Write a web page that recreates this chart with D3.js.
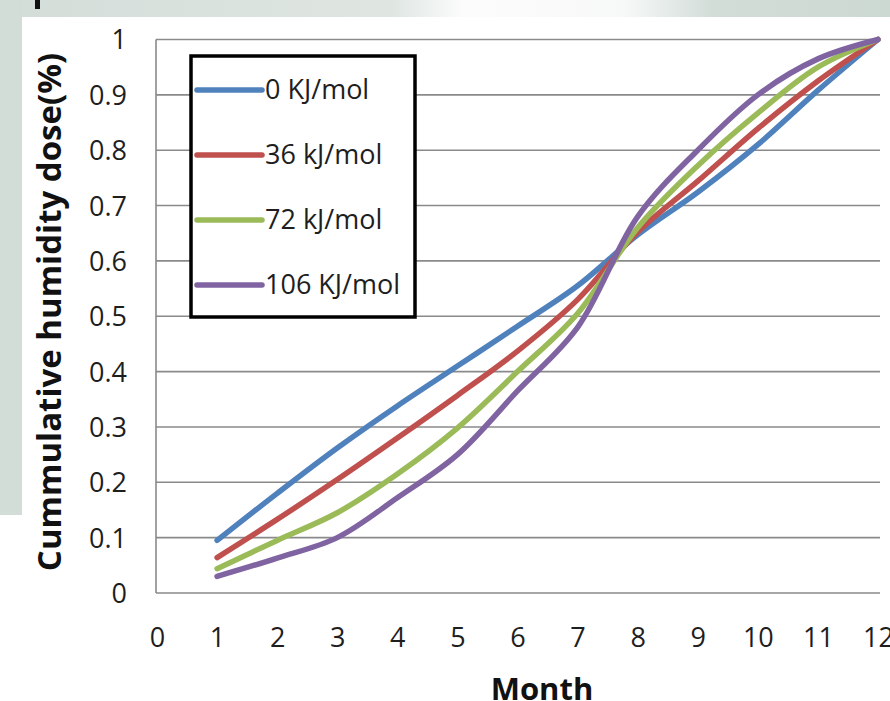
<!DOCTYPE html>
<html lang="en">
  <head>
    <meta charset="utf-8">
    <title>Cumulative humidity dose</title>
    <script src="https://d3js.org/d3.v7.min.js"></script>
    <style>
      body { margin: 0; background: #ffffff; }
      text { font-family: "Open Sans", sans-serif; }
    </style>
  </head>
  <body>
    <div id="chart"></div>
    <script>

    // data
    var months = [1, 2, 3, 4, 5, 6, 7, 8, 9, 10, 11, 12];
    var seriesNames = ["0 KJ/mol", "36 kJ/mol", "72 kJ/mol", "106 KJ/mol"];
    var dose0   = [0.095, 0.180, 0.262, 0.338, 0.410, 0.482, 0.555, 0.647, 0.724, 0.810, 0.908, 1.0];
    var dose36  = [0.064, 0.133, 0.205, 0.280, 0.357, 0.437, 0.530, 0.652, 0.744, 0.839, 0.925, 1.0];
    var dose72  = [0.044, 0.095, 0.145, 0.215, 0.298, 0.400, 0.505, 0.660, 0.772, 0.867, 0.950, 1.0];
    var dose106 = [0.030, 0.063, 0.100, 0.172, 0.250, 0.365, 0.480, 0.680, 0.800, 0.900, 0.965, 1.0];
    var xTicks = [0, 1, 2, 3, 4, 5, 6, 7, 8, 9, 10, 11, 12];
    var yTicks = [0, 0.1, 0.2, 0.3, 0.4, 0.5, 0.6, 0.7, 0.8, 0.9, 1];

    var allSeries = [dose0, dose36, dose72, dose106];
    var colours = ["#4f81bd", "#c0504d", "#9bbb59", "#8064a2"];

    var width = 890, height = 701;

    var svg = d3.select("#chart")
      .append("svg")
        .attr("width", width)
        .attr("height", height);

    // page background left over from the scan
    var grad = svg.append("defs").append("linearGradient")
      .attr("id", "topfade")
      .attr("x1", "0").attr("x2", "1")
      .attr("y1", "0").attr("y2", "0");
    grad.append("stop").attr("offset", "0").attr("stop-color", "#d3ddd8");
    grad.append("stop").attr("offset", "0.44").attr("stop-color", "#dfe6e2");
    grad.append("stop").attr("offset", "0.52").attr("stop-color", "#fbfcfb");
    grad.append("stop").attr("offset", "0.70").attr("stop-color", "#f7f9f8");
    grad.append("stop").attr("offset", "0.80").attr("stop-color", "#d3ddd8");
    grad.append("stop").attr("offset", "1").attr("stop-color", "#ccd8d2");

    svg.append("rect")
      .attr("x", 0).attr("y", 0)
      .attr("width", width).attr("height", 17)
      .attr("fill", "url(#topfade)");
    svg.append("rect")
      .attr("x", 0).attr("y", 0)
      .attr("width", 22).attr("height", 515)
      .attr("fill", "#d3ddd8");
    svg.append("rect")
      .attr("x", 35).attr("y", 0)
      .attr("width", 5).attr("height", 9)
      .attr("fill", "#111");

    var x = d3.scaleLinear()
      .domain([0, 12])
      .range([157, 878]);

    var y = d3.scaleLinear()
      .domain([0, 1])
      .range([593, 39.5]);

    // horizontal gridlines
    svg.append("g")
      .selectAll("line")
      .data(yTicks)
      .enter()
      .append("line")
        .attr("x1", 156)
        .attr("x2", 880)
        .attr("y1", function(d) { return y(d); })
        .attr("y2", function(d) { return y(d); })
        .attr("stroke", "#8a8a8a")
        .attr("stroke-width", 1.6);

    // y axis line
    svg.append("line")
      .attr("x1", 156).attr("x2", 156)
      .attr("y1", y(1)).attr("y2", y(0))
      .attr("stroke", "#8a8a8a")
      .attr("stroke-width", 1.6);

    // axes (labels only)
    var yAxis = svg.append("g")
      .attr("transform", "translate(156,0)")
      .call(d3.axisLeft(y).tickValues(yTicks).tickSize(0).tickPadding(29)
        .tickFormat(function(d) { return d === 0 || d === 1 ? d3.format("d")(d) : d3.format(".1f")(d); }));
    yAxis.select(".domain").remove();
    yAxis.selectAll("text")
      .attr("dy", "0.35em")
      .style("font-size", "27px")
      .style("fill", "#1e1e1e");

    var xAxis = svg.append("g")
      .attr("transform", "translate(0,593)")
      .call(d3.axisBottom(x).tickValues(xTicks).tickSize(0).tickPadding(35));
    xAxis.select(".domain").remove();
    xAxis.selectAll("text")
      .style("font-size", "27px")
      .style("fill", "#1e1e1e");

    // axis titles
    svg.append("text")
      .attr("text-anchor", "middle")
      .attr("x", 542)
      .attr("y", 700)
      .text("Month")
      .style("font-weight", "bold")
      .style("font-size", "31px")
      .style("fill", "#111");

    svg.append("text")
      .attr("text-anchor", "middle")
      .attr("transform", "translate(61,312) rotate(-90)")
      .text("Cummulative humidity dose(%)")
      .style("font-weight", "bold")
      .style("font-size", "33px")
      .style("fill", "#111");

    // curves
    var line = d3.line()
      .x(function(d, i) { return x(months[i]); })
      .y(function(d) { return y(d); })
      .curve(d3.curveCatmullRom.alpha(0.5));

    svg.append("g")
      .selectAll("path")
      .data(allSeries)
      .enter()
      .append("path")
        .attr("d", line)
        .attr("fill", "none")
        .attr("stroke", function(d, i) { return colours[i]; })
        .attr("stroke-width", 5.5)
        .attr("stroke-linecap", "round")
        .attr("stroke-linejoin", "round");

    // legend
    var legend = svg.append("g");
    legend.append("rect")
      .attr("x", 191).attr("y", 56)
      .attr("width", 224).attr("height", 261)
      .attr("fill", "#ffffff")
      .attr("stroke", "#000")
      .attr("stroke-width", 3.5);

    var rows = legend.selectAll("g.row")
      .data(seriesNames)
      .enter()
      .append("g")
        .attr("class", "row")
        .attr("transform", function(d, i) { return "translate(0," + (90 + i * 65) + ")"; });

    rows.append("line")
      .attr("x1", 197).attr("x2", 262)
      .attr("y1", 0).attr("y2", 0)
      .attr("stroke", function(d, i) { return colours[i]; })
      .attr("stroke-width", 5.5)
      .attr("stroke-linecap", "round");

    rows.append("text")
      .attr("x", 265)
      .attr("dy", "0.35em")
      .text(function(d) { return d; })
      .style("font-size", "27px")
      .style("fill", "#1e1e1e");

    </script>
  </body>
</html>
